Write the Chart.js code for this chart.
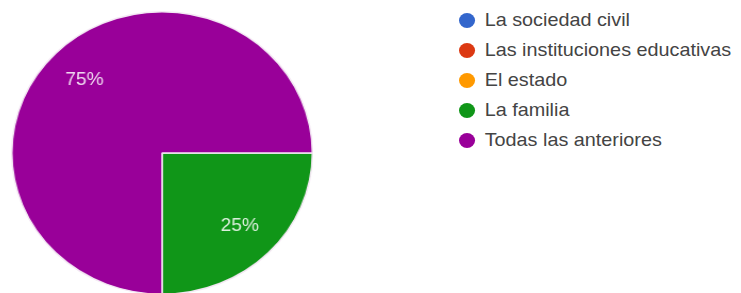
<!DOCTYPE html>
<html>
<head>
<meta charset="utf-8">
<script src="https://cdn.jsdelivr.net/npm/chart.js@4.4.1/dist/chart.umd.min.js"></script>
<style>
  html, body { margin: 0; padding: 0; background: #fff; width: 741px; height: 293px; overflow: hidden; }
  /* the reference is stretched a little horizontally */
  #pieBox { position: absolute; left: 11px; top: 11px; width: 284px; height: 284px; transform: scaleX(1.064); transform-origin: 0 0; }
  #legend { position: absolute; left: 459px; top: 5px; font-family: "Liberation Sans", Arial, sans-serif; font-size: 18.5px; color: #444; transform: scaleX(1.07); transform-origin: 0 0; }
  .row { height: 30px; display: flex; align-items: center; white-space: nowrap; }
  .dot { width: 15px; height: 15px; border-radius: 50%; margin-right: 9px; flex: none; }
</style>
</head>
<body>
<div id="pieBox"><canvas id="pie" width="284" height="284"></canvas></div>
<div id="legend"></div>
<script>
const labels = ["La sociedad civil", "Las instituciones educativas", "El estado", "La familia", "Todas las anteriores"];
const percents = [0, 0, 0, 25, 75];
const colors = ["#3366cc", "#dc3912", "#ff9900", "#109618", "#990099"];

// percentage labels inside the slices
const sliceLabels = {
  id: "sliceLabels",
  afterDatasetsDraw(chart) {
    const ctx = chart.ctx;
    const meta = chart.getDatasetMeta(0);
    ctx.save();
    ctx.font = "18px 'Liberation Sans', Arial, sans-serif";
    ctx.fillStyle = "rgba(255,255,255,0.85)";
    ctx.textAlign = "center";
    ctx.textBaseline = "middle";
    meta.data.forEach((arc, i) => {
      if (!percents[i]) return;
      const p = arc.getProps(["x", "y", "startAngle", "endAngle", "outerRadius"], true);
      const mid = (p.startAngle + p.endAngle) / 2;
      const r = p.outerRadius * 0.73;
      ctx.fillText(percents[i] + "%", p.x + Math.cos(mid) * r, p.y + Math.sin(mid) * r);
    });
    ctx.restore();
  }
};

let pieChart = new Chart(document.getElementById("pie").getContext("2d"), {
  type: "pie",
  data: {
    labels: labels,
    datasets: [
      {
        data: percents,
        backgroundColor: colors,
        borderColor: "#f4e8f4",
        borderWidth: 1.5,
      },
    ],
  },
  options: {
    responsive: false,
    animation: false,
    rotation: 90,
    layout: { padding: 0 },
    plugins: { legend: { display: false }, tooltip: { enabled: false } },
  },
  plugins: [sliceLabels],
});

// legend from the same arrays
const legend = document.getElementById("legend");
labels.forEach((name, i) => {
  const row = document.createElement("div");
  row.className = "row";
  const dot = document.createElement("span");
  dot.className = "dot";
  dot.style.background = colors[i];
  row.appendChild(dot);
  row.appendChild(document.createTextNode(name));
  legend.appendChild(row);
});
</script>
</body>
</html>
